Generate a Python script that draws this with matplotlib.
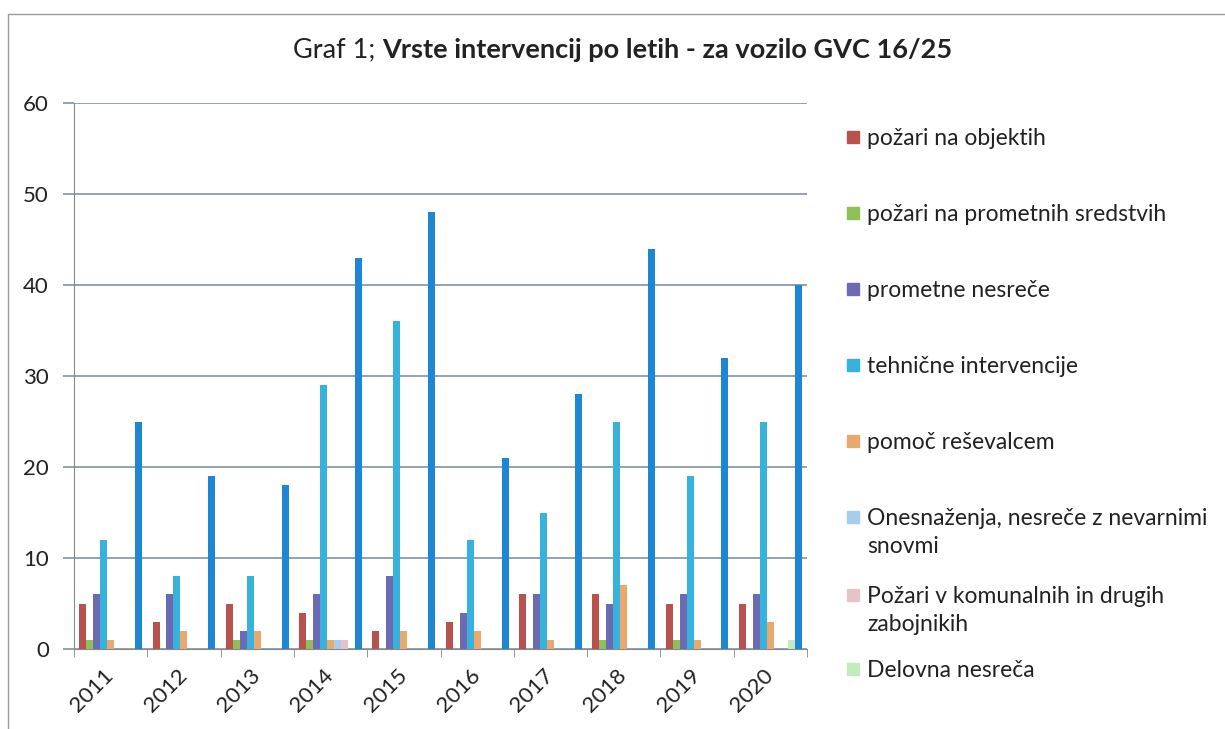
import matplotlib.pyplot as plt
from matplotlib.patches import Rectangle
import numpy as np

### Data -------------------------------------------------------------------

years = ["2011", "2012", "2013", "2014", "2015", "2016", "2017", "2018", "2019", "2020"]

pozari_objekti = [5, 3, 5, 4, 2, 3, 6, 6, 5, 5]
pozari_prometna = [1, 0, 1, 1, 0, 0, 0, 1, 1, 0]
prometne_nesrece = [6, 6, 2, 6, 8, 4, 6, 5, 6, 6]
tehnicne = [12, 8, 8, 29, 36, 12, 15, 25, 19, 25]
pomoc_resevalcem = [1, 2, 2, 1, 2, 2, 1, 7, 1, 3]
onesnazenja = [0, 0, 0, 1, 0, 0, 0, 0, 0, 0]
pozari_komunalni = [0, 0, 0, 1, 0, 0, 0, 0, 0, 0]
delovna_nesreca = [0, 0, 0, 0, 0, 0, 0, 0, 0, 1]
skupaj = [25, 19, 18, 43, 48, 21, 28, 44, 32, 40]

series_names = [
    "požari na objektih",
    "požari na prometnih sredstvih",
    "prometne nesreče",
    "tehnične intervencije",
    "pomoč reševalcem",
    "Onesnaženja, nesreče z nevarnimi\nsnovmi",
    "Požari v komunalnih in drugih\nzabojnikih",
    "Delovna nesreča",
    "skupaj",
]
series_values = [
    pozari_objekti, pozari_prometna, prometne_nesrece, tehnicne, pomoc_resevalcem,
    onesnazenja, pozari_komunalni, delovna_nesreca, skupaj,
]
colors = [
    "#b8524e", "#8dc055", "#6c6ab3", "#37b2dd", "#e9a86e",
    "#a7cdee", "#e6c3c6", "#c4ebc0", "#1e87d3",
]

### Figure -----------------------------------------------------------------

plt.rcParams["font.family"] = ["Lato", "DejaVu Sans"]
W, H = 1225, 729
fig = plt.figure(figsize=(W / 100, H / 100), dpi=100)
fig.patch.set_facecolor("white")

ax = fig.add_axes([74 / W, 1 - 649 / H, (807 - 74) / W, (649 - 103) / H])

n = len(series_values)
x = np.arange(len(years))
w = 1 / (n + 1.5)  # excel gap width 150%
for j, (vals, col) in enumerate(zip(series_values, colors)):
    ax.bar(x + (j - (n - 1) / 2) * w, vals, width=w, color=col, zorder=3)

ax.set_xlim(-0.5, len(years) - 0.5)
ax.set_ylim(0, 60)
ax.set_yticks(range(0, 61, 10))
ax.yaxis.grid(True, color="#8c9aa6", linewidth=1.3, zorder=0)

ax.set_xticks(x, years)
ax.set_xticks(np.arange(-0.5, len(years)), minor=True)
ax.tick_params(axis="x", which="major", length=0, pad=17, labelsize=16, colors="#222222")
ax.tick_params(axis="x", which="minor", length=6, color="#888888")
ax.tick_params(axis="y", length=8, color="#8c9aa6", width=1.3, pad=10,
               labelsize=16, labelcolor="#222222")
for lab in ax.get_xticklabels():
    lab.set_rotation(45)
    lab.set_ha("right")
    lab.set_va("center")
    lab.set_rotation_mode("anchor")

for s in ["top", "right"]:
    ax.spines[s].set_visible(False)
ax.spines["left"].set_color("#888888")
ax.spines["bottom"].set_color("#888888")

# Title (normal + bold part)
t1 = fig.text(293 / W, 1 - 50 / H, "Graf 1; ", fontsize=19.5, va="center", ha="left",
              color="#222222")
ax.annotate("Vrste intervencij po letih - za vozilo GVC 16/25", xy=(1, 0),
            xycoords=t1, va="bottom", ha="left", fontsize=19.5, fontweight="bold",
            color="#222222")

# Legend (only first 8 series are shown in the original)
legend_y = [137, 213, 289, 365, 441, 517, 595, 669]
for name, col, yy in zip(series_names[:8], colors[:8], legend_y):
    fig.add_artist(Rectangle((847 / W, 1 - (yy + 6) / H), 12 / W, 12 / H,
                             transform=fig.transFigure, color=col))
    for k, line in enumerate(name.split("\n")):
        fig.text(867 / W, 1 - (yy + 8 + 28 * k) / H, line, fontsize=16.5,
                 ha="left", va="baseline", color="#222222")

# Chart border
fig.add_artist(Rectangle((8 / W, -0.1), 1.5, (H - 14) / H + 0.1, fill=False,
                         transform=fig.transFigure, edgecolor="#9a9a9a", lw=1))

fig.savefig("out.png", dpi=100)
